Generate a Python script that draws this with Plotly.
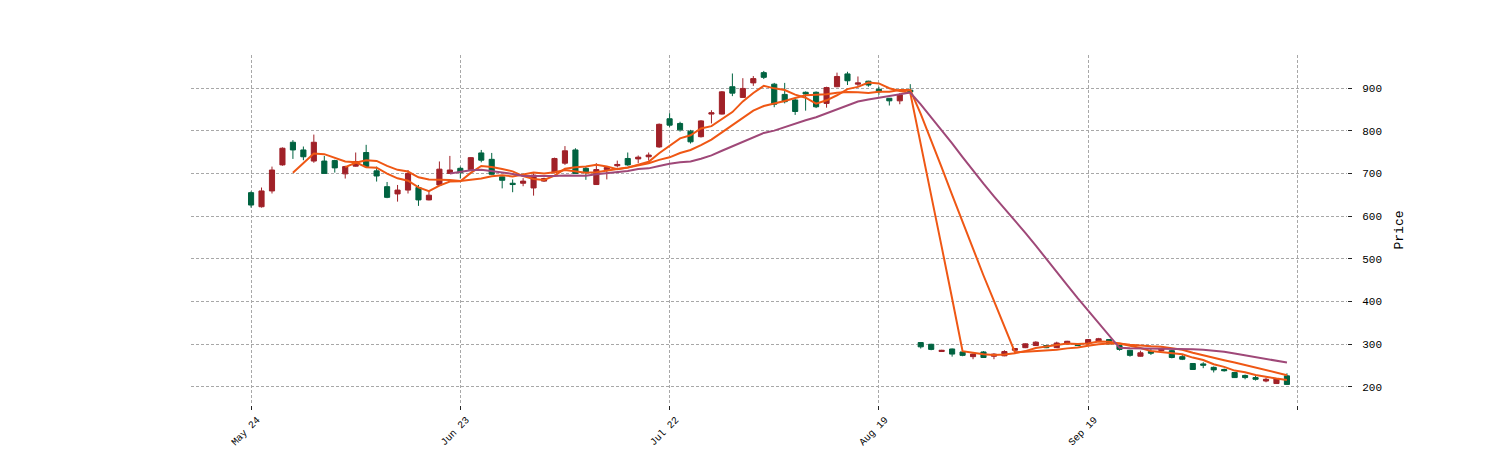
import plotly.graph_objects as go
import pandas as pd

opens = [655, 622, 659, 720, 773, 755, 729, 729, 730, 699,
         717, 749, 706, 669, 652, 661, 667, 638, 673, 700,
         712, 709, 748, 733, 692, 677, 677, 666, 682, 702,
         724, 755, 712, 674, 709, 718, 735, 734, 739, 762,
         828, 817, 799, 786, 839, 839, 903, 878, 912, 936,
         909, 885, 872, 890, 890, 864, 903, 933, 909, 916,
         897, 876, 870, 895, 304, 300, 283, 289, 282, 271,
         282, 272, 273, 286, 292, 297, 297, 292, 301, 301,
         301, 307, 311, 297, 286, 272, 283, 285, 285, 271,
         255, 254, 246, 241, 234, 227, 222, 214, 208, 226]
highs = [658, 667, 716, 761, 778, 763, 791, 741, 732, 718,
         749, 767, 716, 680, 673, 708, 673, 659, 728, 741,
         716, 738, 755, 748, 693, 686, 689, 700, 690, 737,
         764, 759, 716, 724, 717, 730, 749, 742, 749, 817,
         841, 821, 802, 825, 848, 893, 934, 923, 928, 940,
         912, 912, 875, 892, 892, 903, 936, 938, 927, 917,
         903, 876, 888, 909, 305, 301, 287, 290, 283, 279,
         284, 279, 286, 291, 302, 307, 298, 306, 308, 303,
         312, 315, 312, 299, 287, 285, 290, 292, 287, 275,
         256, 258, 248, 243, 235, 229, 226, 222, 221, 232]
lows = [620, 620, 653, 718, 734, 731, 725, 700, 702, 688,
        716, 714, 681, 642, 634, 653, 624, 637, 672, 700,
        688, 708, 726, 697, 665, 656, 670, 648, 680, 700,
        720, 700, 685, 673, 686, 714, 718, 724, 730, 760,
        809, 798, 770, 784, 817, 838, 881, 878, 905, 921,
        855, 864, 837, 847, 853, 854, 902, 907, 903, 903,
        884, 859, 862, 888, 290, 286, 282, 271, 272, 265,
        268, 265, 272, 284, 291, 296, 291, 291, 300, 296,
        300, 306, 300, 285, 271, 271, 275, 284, 267, 263,
        240, 244, 234, 236, 221, 218, 215, 211, 207, 205]
closes = [626, 659, 708, 759, 755, 739, 773, 700, 713, 716,
          728, 716, 694, 644, 661, 700, 638, 649, 710, 708,
          702, 737, 731, 698, 684, 674, 682, 696, 688, 735,
          753, 700, 704, 709, 714, 721, 720, 738, 743, 815,
          813, 802, 774, 823, 842, 891, 888, 899, 922, 925,
          862, 868, 845, 886, 856, 901, 927, 917, 912, 907,
          891, 870, 884, 891, 294, 288, 286, 277, 274, 277,
          269, 277, 283, 290, 301, 305, 292, 303, 307, 297,
          311, 313, 301, 288, 274, 280, 279, 290, 269, 265,
          241, 251, 240, 238, 222, 222, 218, 218, 219, 206]

tick_idx = [0, 20, 40, 60, 80, 100]
tick_labels = ["May 24", "Jun 23", "Jul 22", "Aug 19", "Sep 19", ""]
price_ticks = [200, 300, 400, 500, 600, 700, 800, 900]
mav_windows = [5, 10, 20]
mav_colors = ["#ef5714", "#ef5714", "#9f4878"]

x = list(range(len(closes)))
close_s = pd.Series(closes, dtype=float)

fig = go.Figure()
fig.add_trace(go.Candlestick(
    x=x, open=opens, high=highs, low=lows, close=closes,
    increasing=dict(line=dict(color="#a02128", width=1), fillcolor="#a02128"),
    decreasing=dict(line=dict(color="#006340", width=1), fillcolor="#006340"),
    whiskerwidth=0, showlegend=False,
))
for w, c in zip(mav_windows, mav_colors):
    ma = close_s.rolling(w).mean()
    fig.add_trace(go.Scatter(
        x=x[w - 1:], y=ma.iloc[w - 1:].tolist(), mode="lines",
        line=dict(color=c, width=2), showlegend=False, hoverinfo="skip",
    ))

font_family = "Liberation Mono, DejaVu Sans Mono, monospace"
grid_dash = "3px,2px"
fig.update_layout(
    width=1500, height=450,
    margin=dict(l=191, r=153, t=55, b=45, autoexpand=False),
    paper_bgcolor="white", plot_bgcolor="white",
    font=dict(family=font_family, size=10, color="#000000"),
    xaxis=dict(
        range=[-5.74, 104.74], rangeslider=dict(visible=False),
        tickmode="array", tickvals=tick_idx, ticktext=tick_labels,
        tickangle=-45, ticks="outside", ticklen=4, tickwidth=1.2, tickcolor="#222",
        showgrid=True, gridcolor="#a8a8a8", griddash=grid_dash, gridwidth=0.8,
        showline=False, zeroline=False, tickfont=dict(size=10), automargin=False,
        ticklabelshift=6,
    ),
    yaxis=dict(
        range=[157.8, 977.3], side="right",
        tickmode="array", tickvals=price_ticks,
        ticks="outside", ticklen=4, tickwidth=1.2, tickcolor="#222",
        showgrid=True, gridcolor="#a8a8a8", griddash=grid_dash, gridwidth=0.8,
        showline=False, zeroline=False, tickfont=dict(size=11), automargin=False,
        ticklabelstandoff=8,
        title=dict(text="Price", font=dict(size=13), standoff=12),
    ),
)
fig.write_html("out.html")
